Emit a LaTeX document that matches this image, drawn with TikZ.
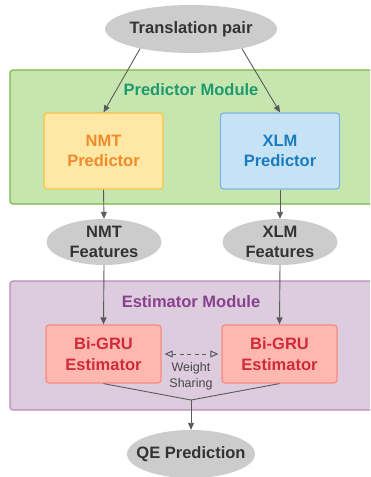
\documentclass[tikz,border=0pt]{standalone}
\usepackage{fontspec}
\setmainfont{Liberation Sans}
\usetikzlibrary{arrows.meta,shapes.geometric}
\definecolor{ellgray}{HTML}{CCCCCC}
\definecolor{predfill}{HTML}{C7E6AF}
\definecolor{preddraw}{HTML}{7AB648}
\definecolor{predtext}{HTML}{1E9A6E}
\definecolor{nmtfill}{HTML}{FFE8A6}
\definecolor{nmtdraw}{HTML}{F7C444}
\definecolor{nmttext}{HTML}{F08A2A}
\definecolor{xlmfill}{HTML}{C6E3F6}
\definecolor{xlmdraw}{HTML}{7DB6E2}
\definecolor{xlmtext}{HTML}{1B7BC0}
\definecolor{estfill}{HTML}{DDCCDE}
\definecolor{estdraw}{HTML}{B68DBA}
\definecolor{esttext}{HTML}{87418F}
\definecolor{grufill}{HTML}{FFB8AF}
\definecolor{grudraw}{HTML}{F88B7F}
\definecolor{grutext}{HTML}{D12A3A}
\definecolor{arrgray}{HTML}{5A5A5A}
\definecolor{txtdark}{HTML}{333333}
\tikzset{
  ell/.style={ellipse, fill=ellgray, draw=none, font=\bfseries\fontsize{16.5}{20.5}\selectfont, text=txtdark, align=center, inner xsep=-30pt, inner ysep=-6pt},
  modbox/.style={rounded corners=3pt, line width=1.2pt},
  predbox/.style={rounded corners=3pt, line width=1.2pt, minimum width=119pt, minimum height=76pt, align=center, font=\bfseries\fontsize{16.5}{20.5}\selectfont},
  grubox/.style={rounded corners=3pt, line width=1.2pt, minimum width=115pt, minimum height=58pt, align=center, font=\bfseries\fontsize{16.5}{20.5}\selectfont, fill=grufill, draw=grudraw, text=grutext},
  arr/.style={draw=arrgray, line width=0.9pt, -{Triangle[length=7pt,width=6pt]}},
  modlabel/.style={font=\bfseries\fontsize{16.5}{20}\selectfont}
}
\begin{document}
\begin{tikzpicture}[x=1pt,y=-1pt]
\useasboundingbox (0,0) rectangle (370,477);
\clip (0,0) rectangle (370,477);
% modules
\draw[modbox, fill=predfill, draw=preddraw] (10,70) rectangle (400,204);
\node[modlabel, text=predtext] (predlab) at (191,90) {Predictor Module};
\draw[modbox, fill=estfill, draw=estdraw] (10,281) rectangle (400,410);
\node[modlabel, text=esttext] (estlab) at (191,302) {Estimator Module};
% nodes
\node[ell, minimum width=172pt, minimum height=48pt] (tp) at (191,29) {Translation pair};
\node[predbox, fill=nmtfill, draw=nmtdraw, text=nmttext] (nmt) at (103.5,151) {NMT\\Predictor};
\node[predbox, fill=xlmfill, draw=xlmdraw, text=xlmtext] (xlm) at (280,151) {XLM\\Predictor};
\node[ell, minimum width=115pt, minimum height=46pt] (nmtf) at (104,242) {NMT\\Features};
\node[ell, minimum width=115pt, minimum height=46pt] (xlmf) at (280,242) {XLM\\Features};
\node[grubox] (gru1) at (103.5,354) {Bi-GRU\\Estimator};
\node[grubox] (gru2) at (279.5,354) {Bi-GRU\\Estimator};
\node[ell, minimum width=128pt, minimum height=48pt] (qe) at (191,454) {QE Prediction};
\node[font=\fontsize{12.5}{16}\selectfont, text=txtdark!90, align=center] (ws) at (191,376) {Weight\\Sharing};
\coordinate (join) at (191,400);
% connectors
\draw[arr] (tp.201) -- (nmt.north);
\draw[arr] (tp.339) -- (xlm.north);
\draw[arr] (nmt.south) -- (nmtf.north);
\draw[arr] (xlm.south) -- (xlmf.north);
\draw[arr] (nmtf.south) -- (gru1.north);
\draw[arr] (xlmf.south) -- (gru2.north);
\draw[draw=arrgray, line width=1pt, dash pattern=on 4pt off 3.5pt, {Triangle[open,length=8pt,width=7pt]}-{Triangle[open,length=8pt,width=7pt]}] ([xshift=3pt]gru1.east) -- ([xshift=-3pt]gru2.west);
\draw[draw=arrgray, line width=0.9pt] (gru1.south) -- (join) -- (gru2.south);
\draw[arr] (join) -- (qe.north);
\end{tikzpicture}
\end{document}
